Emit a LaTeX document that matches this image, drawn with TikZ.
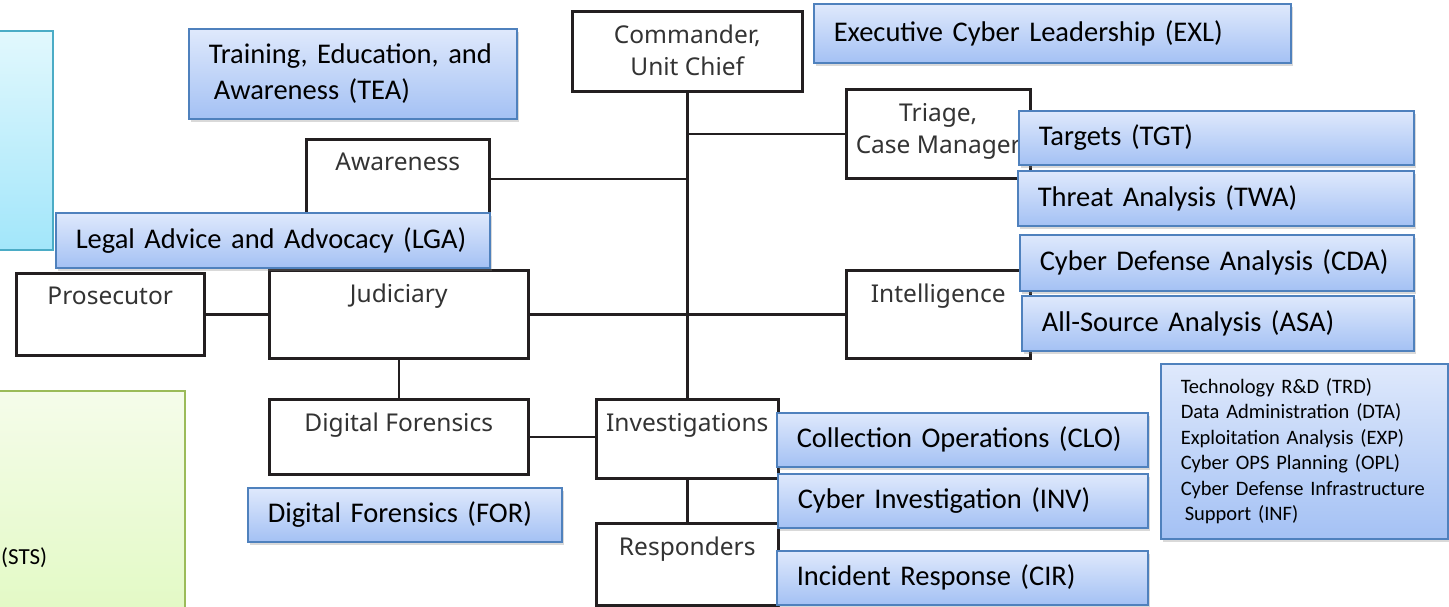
\documentclass[tikz,border=0pt]{standalone}
\usepackage{fontspec}
\setmainfont{Carlito}
\newfontfamily\orgfont{Noto Sans}
\usetikzlibrary{shadows}

\definecolor{orgline}{HTML}{231F20}
\definecolor{orgtext}{HTML}{333333}
\definecolor{roletop}{HTML}{DFE9FC}
\definecolor{rolebot}{HTML}{A4C1F4}
\definecolor{roleline}{HTML}{4F81BD}
\definecolor{cyantop}{HTML}{E2F8FD}
\definecolor{cyanbot}{HTML}{A2E6FA}
\definecolor{cyanline}{HTML}{4BACC6}
\definecolor{greentop}{HTML}{F5FCEA}
\definecolor{greenbot}{HTML}{E1F9C2}
\definecolor{greenline}{HTML}{9BBB59}

\begin{document}
\begin{tikzpicture}[x=1pt, y=-1pt,
    unit/.style={draw=orgline, line width=2.5pt, fill=white, inner sep=0pt, anchor=north west},
    unittext/.style={anchor=north, yshift=-15pt, inner sep=0pt, align=center, text=orgtext,
        font=\orgfont\fontsize{24.5}{32}\selectfont},
    link/.style={draw=orgline, line width=2.5pt},
    role/.style={draw=roleline, line width=1.5pt, top color=roletop, bottom color=rolebot,
        anchor=north west, inner xsep=20pt, inner ysep=0pt, align=left,
        font=\fontsize{28.5}{36}\selectfont,
        drop shadow={shadow xshift=2pt, shadow yshift=-3pt, opacity=0.3}},
    smallrole/.style={role, font=\fontsize{20.5}{25.5}\selectfont}]
    \useasboundingbox (0,0) rectangle (1449,606);
    % side panels
    \node[draw=cyanline, line width=1.5pt, top color=cyantop, bottom color=cyanbot, anchor=north west,
        minimum width=62pt, minimum height=219pt] (cyanpanel) at (-10,30) {};
    \node[draw=greenline, line width=1.5pt, top color=greentop, bottom color=greenbot, anchor=north west,
        minimum width=194pt, minimum height=240pt] (greenpanel) at (-10,390) {};
    \node[anchor=west, inner sep=0pt, font=\fontsize{23}{26}\selectfont] (sts) at (1,558) {(STS)};
    % org chart boxes
    \node[unit, minimum width=230pt, minimum height=80pt, label={[unittext]north:{Commander,\\Unit Chief}}] (cmd) at (571,10) {};
    \node[unit, minimum width=184pt, minimum height=89pt, label={[unittext]north:{Triage,\\Case Manager}}] (triage) at (845,88) {};
    \node[unit, minimum width=183pt, minimum height=79pt, label={[unittext]north:Awareness}] (aware) at (305,138) {};
    \node[unit, minimum width=188pt, minimum height=82pt, label={[unittext]north:Prosecutor}] (pros) at (15,272) {};
    \node[unit, minimum width=259pt, minimum height=88pt, label={[unittext]north:Judiciary}] (jud) at (268,269) {};
    \node[unit, minimum width=184pt, minimum height=88pt, label={[unittext]north:Intelligence}] (intel) at (845,269) {};
    \node[unit, minimum width=259pt, minimum height=75pt, label={[unittext]north:Digital Forensics}] (df) at (268,398) {};
    \node[unit, minimum width=182pt, minimum height=79pt, label={[unittext]north:Investigations}] (inv) at (595,398) {};
    \node[unit, minimum width=182pt, minimum height=82pt, label={[unittext]north:Responders}] (resp) at (595,522) {};
    % connectors
    \coordinate (triagejoin) at (cmd.south |- triage.west);
    \coordinate (awarejoin) at (cmd.south |- aware.east);
    \draw[link] (cmd.south) -- (inv.north);
    \draw[link] (triagejoin) -- (triage.west);
    \draw[link] (aware.east) -- (awarejoin);
    \draw[link] (jud.east) -- (intel.west);
    \draw[link] (pros.east) -- (jud.west);
    \draw[link] (jud.south) -- (df.north);
    \draw[link] (df.east) -- (df.east -| inv.west);
    \draw[link] (inv.south) -- (resp.north);
    % work roles
    \node[role, text width=437pt, minimum height=59pt] (exl) at (813,3) {Executive Cyber Leadership (EXL)};
    \node[role, text width=288pt, minimum height=90pt] (tea) at (188,28) {Training, Education, and\\\hspace{5pt}Awareness (TEA)};
    \node[role, text width=394pt, minimum height=55pt] (lga) at (55,212) {Legal Advice and Advocacy (LGA)};
    \node[role, text width=355pt, minimum height=54pt] (tgt) at (1018,110) {Targets (TGT)};
    \node[role, text width=356pt, minimum height=55pt] (twa) at (1017,170) {Threat Analysis (TWA)};
    \node[role, text width=354pt, minimum height=56pt] (cda) at (1019,234) {Cyber Defense Analysis (CDA)};
    \node[role, text width=352pt, minimum height=55pt] (asa) at (1021,295) {All-Source Analysis (ASA)};
    \node[role, text width=331pt, minimum height=54pt] (clo) at (776,412) {Collection Operations (CLO)};
    \node[role, text width=330pt, minimum height=54pt] (cinv) at (777,473) {Cyber Investigation (INV)};
    \node[role, text width=331pt, minimum height=54pt] (cir) at (776,550) {Incident Response (CIR)};
    \node[role, text width=274pt, minimum height=54pt] (for) at (247,487) {Digital Forensics (FOR)};
    \node[smallrole, text width=247pt, minimum height=175pt] (others) at (1160,363)
        {Technology R\&D (TRD)\\Data Administration (DTA)\\Exploitation Analysis (EXP)\\Cyber OPS Planning (OPL)\\Cyber Defense Infrastructure\\\hspace{4pt}Support (INF)};
\end{tikzpicture}
\end{document}
